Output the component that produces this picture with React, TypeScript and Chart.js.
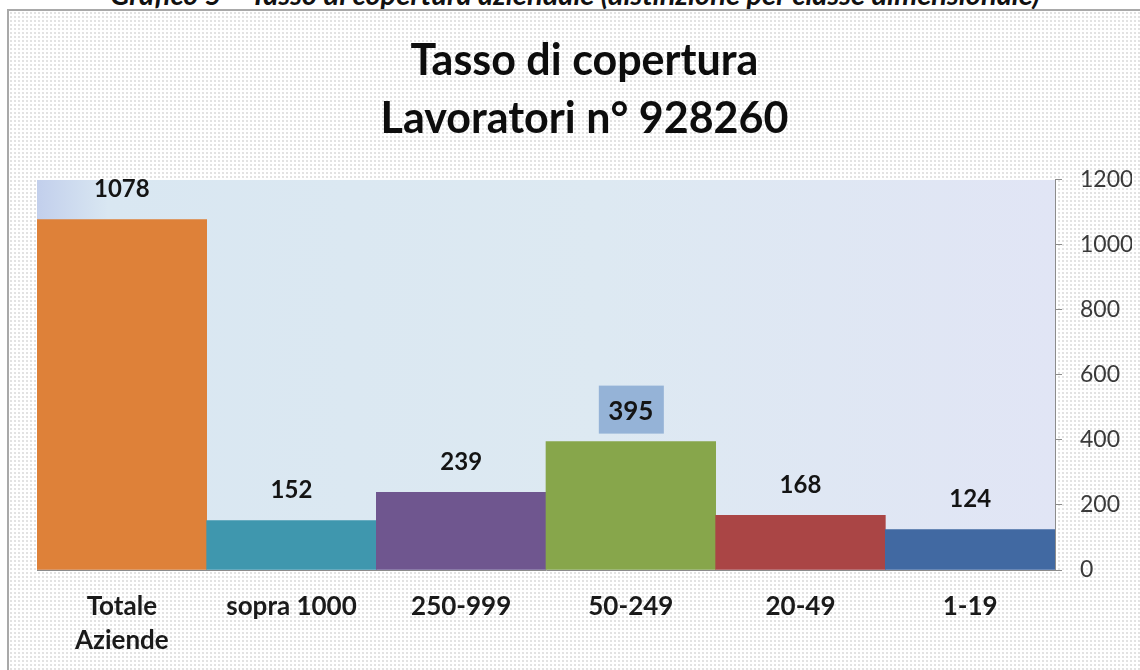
import React, { useEffect, useRef } from 'react';
import { Chart, registerables } from 'chart.js';

Chart.register(...registerables);

const categories: (string | string[])[] = [['Totale', 'Aziende'], 'sopra 1000', '250-999', '50-249', '20-49', '1-19'];
const values: number[] = [1078, 152, 239, 395, 168, 124];
const barColors: string[] = ['#DE8139', '#3F97AE', '#6F568F', '#87A64B', '#AA4545', '#4169A2'];
const yTicks: number[] = [0, 200, 400, 600, 800, 1000, 1200];
const titleLines: string[] = ['Tasso di copertura', 'Lavoratori n° 928260'];
const captionText = 'Grafico 5 – Tasso di copertura aziendale (distinzione per classe dimensionale)';
const highlightedIndex = 3;

const FONT = "Lato, 'Open Sans', sans-serif";

const plotBg = {
  id: 'plotBg',
  beforeDraw(chart: any) {
    const { ctx, chartArea: a } = chart;
    if (!a) return;
    const g = ctx.createLinearGradient(a.left, 0, a.right, 0);
    g.addColorStop(0, '#c2cfec');
    g.addColorStop(0.07, '#d9e7f2');
    g.addColorStop(0.55, '#dde9f2');
    g.addColorStop(1, '#e1e5f5');
    ctx.save();
    ctx.fillStyle = g;
    ctx.fillRect(a.left, a.top, a.right - a.left, a.bottom - a.top);
    ctx.restore();
  },
};

const dataLabels = {
  id: 'dataLabels',
  afterDatasetsDraw(chart: any) {
    const { ctx } = chart;
    const meta = chart.getDatasetMeta(0);
    ctx.save();
    ctx.textAlign = 'center';
    ctx.textBaseline = 'alphabetic';
    meta.data.forEach((el: any, i: number) => {
      const { x, y } = el.getProps(['x', 'y'], true);
      const cy = y - 31;
      const size = i === highlightedIndex ? 26 : 24;
      if (i === highlightedIndex) {
        ctx.fillStyle = '#95B3D7';
        ctx.fillRect(x - 32, cy - 25, 65, 48);
      }
      ctx.font = `bold ${size}px ${FONT}`;
      ctx.fillStyle = '#141414';
      ctx.fillText(String(values[i]), x, cy + size * 0.36);
    });
    ctx.restore();
  },
};

export default function App() {
  const canvasRef = useRef<HTMLCanvasElement | null>(null);

  useEffect(() => {
    if (!canvasRef.current) return;
    const chart = new Chart(canvasRef.current, {
      type: 'bar',
      data: {
        labels: categories,
        datasets: [
          {
            data: values,
            backgroundColor: barColors,
            borderWidth: 0,
            barPercentage: 1,
            categoryPercentage: 1,
          },
        ],
      },
      options: {
        animation: false,
        responsive: false,
        maintainAspectRatio: false,
        layout: { padding: { left: 37, right: 8, top: 0, bottom: 0 } },
        plugins: {
          legend: { display: false },
          tooltip: { enabled: false },
          title: {
            display: true,
            text: titleLines,
            color: '#0d0d0d',
            font: { family: FONT, size: 43, weight: 'bold', lineHeight: 1.33 },
            padding: { top: 33, bottom: 32.6 },
          },
        },
        scales: {
          x: {
            grid: { display: false },
            border: { display: true, color: '#8c8c8c', width: 1 },
            ticks: {
              color: '#1a1a1a',
              padding: 12,
              maxRotation: 0,
              autoSkip: false,
              font: { family: FONT, size: 26, weight: 'bold', lineHeight: 1.31 },
            },
            afterFit(scale: any) {
              scale.height = 100;
            },
          },
          y: {
            position: 'right',
            min: yTicks[0],
            max: yTicks[yTicks.length - 1],
            afterBuildTicks(scale: any) {
              scale.ticks = yTicks.map((v) => ({ value: v }));
            },
            grid: {
              drawOnChartArea: false,
              drawTicks: true,
              tickLength: 7,
              color: '#8c8c8c',
            },
            border: { display: true, color: '#8c8c8c', width: 1 },
            ticks: {
              color: '#3a3a3a',
              padding: 18,
              font: { family: FONT, size: 23 },
              callback: (v: any) => String(v),
            },
            afterFit(scale: any) {
              scale.width = 77;
            },
          },
        },
      },
      plugins: [plotBg, dataLabels],
    } as any);
    return () => chart.destroy();
  }, []);

  return (
    <div
      style={{
        position: 'absolute',
        left: 0,
        top: 0,
        width: 1140,
        height: 670,
        overflow: 'hidden',
        background: '#ffffff',
      }}
    >
      <div
        style={{
          position: 'absolute',
          left: 5,
          top: -20.7,
          width: 1140,
          textAlign: 'center',
          fontFamily: FONT,
          fontWeight: 'bold',
          fontStyle: 'italic',
          fontSize: 29,
          lineHeight: '29px',
          color: '#111',
          whiteSpace: 'nowrap',
        }}
      >
        {captionText}
      </div>
      <div
        style={{
          position: 'absolute',
          left: 7,
          top: 9,
          width: 1200,
          height: 700,
          borderLeft: '2px solid #a9a9a9',
          borderTop: '2px solid #a9a9a9',
          backgroundColor: '#ffffff',
          backgroundImage: 'radial-gradient(circle, #e2e2e2 0.7px, transparent 1px)',
          backgroundSize: '4px 4px',
        }}
      />
      <canvas
        ref={canvasRef}
        width={1140}
        height={670}
        style={{ position: 'absolute', left: 0, top: 0, width: 1140, height: 670 }}
      />
    </div>
  );
}
